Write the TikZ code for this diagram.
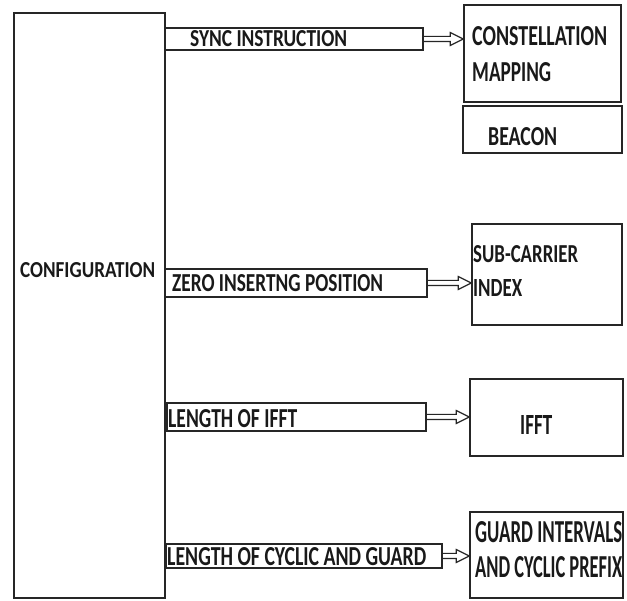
\documentclass[tikz,border=0pt]{standalone}
\usepackage{fontspec}
\setmainfont{Carlito}
\usetikzlibrary{fit,calc}
\newcommand{\tx}[3]{\resizebox{#1pt}{#2pt}{\bfseries #3}}
\tikzset{
  box/.style={draw=black!85, line width=1.6pt, inner sep=0pt, fill=white},
  lblbox/.style={draw=black!85, line width=1.5pt, inner sep=0pt},
  txt/.style={anchor=base west, inner sep=0pt, text=black!90},
  harrow/.style={draw=black!85, line width=1.2pt, line join=miter,
    to path={let \p1=(\tikztostart), \p2=(\tikztotarget) in
      (\x1,\y1+2.6pt) -- (\x2-13pt,\y1+2.6pt) -- (\x2-13pt,\y1+6.5pt) -- (\x2,\y1)
      -- (\x2-13pt,\y1-6.5pt) -- (\x2-13pt,\y1-2.6pt) -- (\x1,\y1-2.6pt)}},
}
\begin{document}
\begin{tikzpicture}[x=1pt,y=-1pt]
\useasboundingbox[fill=white] (0,0) rectangle (627,601);
% boxes
\node[box, fit={(14,13) (165,598)}] (config) {};
\node[box, fit={(464,5) (621,102)}] (const) {};
\node[box, fit={(463,106) (622,153)}] (beacon) {};
\node[box, fit={(472,224) (622,325)}] (sub) {};
\node[box, fit={(470,379) (623,456)}] (ifft) {};
\node[box, fit={(470,512) (623,598)}] (guard) {};
% label boxes
\node[lblbox, fit={(165,28) (423,50)}] (syncl) {};
\node[lblbox, fit={(165,269) (427,297)}] (zerol) {};
\node[lblbox, fit={(167,403) (426,431)}] (ifftl) {};
\node[lblbox, fit={(166,544) (442,568)}] (cycl) {};
% texts
\node[txt] (tconfig) at (20,278) {\tx{135}{15}{CONFIGURATION}};
\node[txt] (tsync) at (190,47) {\tx{157}{16}{SYNC INSTRUCTION}};
\node[txt] (tzero) at (172,292) {\tx{211}{17}{ZERO INSERTNG POSITION}};
\node[txt] (tlifft) at (168,428) {\tx{129}{18}{LENGTH OF IFFT}};
\node[txt] (tcyc) at (167,565) {\tx{259}{18}{LENGTH OF CYCLIC AND GUARD}};
\node[txt] (tconst) at (472,46) {\tx{135}{19}{CONSTELLATION}};
\node[txt] (tmap) at (472,82) {\tx{79}{19}{MAPPING}};
\node[txt] (tbeacon) at (488,146) {\tx{69}{18}{BEACON}};
\node[txt] (tsub) at (473,263) {\tx{105}{17}{SUB-CARRIER}};
\node[txt] (tindex) at (473,297) {\tx{49}{17}{INDEX}};
\node[txt] (tifft) at (520,435) {\tx{32}{19}{IFFT}};
\node[txt] (tguard) at (475,543) {\tx{147}{21}{GUARD INTERVALS}};
\node[txt] (tand) at (475,577) {\tx{147}{21}{AND CYCLIC PREFIX}};
% connectors
\draw[harrow] (syncl.east) to (syncl.east -| const.west);
\draw[harrow] (zerol.east) to (zerol.east -| sub.west);
\draw[harrow] (ifftl.east) to (ifftl.east -| ifft.west);
\draw[harrow] (cycl.east) to (cycl.east -| guard.west);
\end{tikzpicture}
\end{document}
